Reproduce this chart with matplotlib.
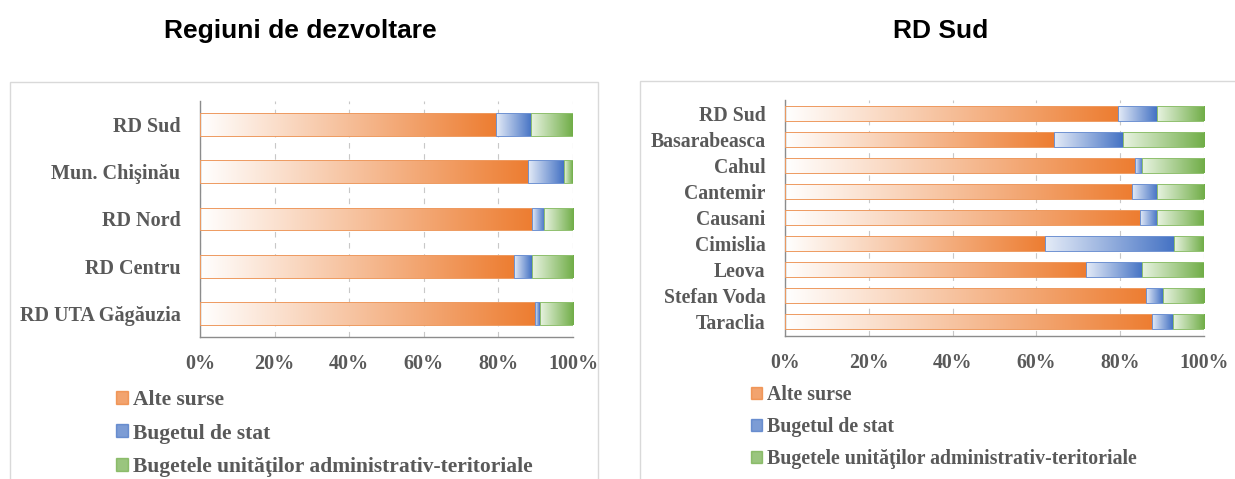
import numpy as np
import matplotlib.pyplot as plt
from matplotlib.colors import LinearSegmentedColormap
from matplotlib.patches import Patch, Rectangle

# date (procente)
reg_labels = ['RD Sud', 'Mun. Chişinău', 'RD Nord', 'RD Centru', 'RD UTA Găgăuzia']
reg_alte = [79.4, 88.0, 88.9, 84.3, 89.8]
reg_stat = [9.4, 9.6, 3.3, 4.6, 1.3]
reg_uat = [11.2, 2.4, 7.8, 11.1, 8.9]

sud_labels = ['RD Sud', 'Basarabeasca', 'Cahul', 'Cantemir', 'Causani',
              'Cimislia', 'Leova', 'Stefan Voda', 'Taraclia']
sud_alte = [79.4, 64.2, 83.5, 82.7, 84.7, 62.1, 71.8, 86.2, 87.7]
sud_stat = [9.3, 16.4, 1.7, 6.0, 4.1, 30.8, 13.5, 4.0, 4.9]
sud_uat = [11.3, 19.4, 14.8, 11.3, 11.2, 7.1, 14.7, 9.8, 7.4]

series_names = ['Alte surse', 'Bugetul de stat',
                'Bugetele unităţilor administrativ-teritoriale']
colors = ['#ED7D31', '#4472C4', '#70AD47']
light = ['#FFFFFF', '#E4EBF7', '#E8F3E1']
edges = ['#EE9A60', '#6F92D2', '#8FC06E']

W, H = 1235, 479
fig = plt.figure(figsize=(W / 100, H / 100), dpi=100)
serif = 'Liberation Serif'
gray = '#595959'


def px(x0, y0, x1, y1):
    return [x0 / W, 1 - y1 / H, (x1 - x0) / W, (y1 - y0) / H]


def draw(rect, labels, data, height, ylim, fs):
    ax = fig.add_axes(rect)
    y = np.arange(len(labels))
    left = np.zeros(len(labels))
    for k, vals in enumerate(data):
        bars = ax.barh(y, vals, left=left, height=height, color='none',
                       edgecolor=edges[k], linewidth=0.7, zorder=3)
        cmap = LinearSegmentedColormap.from_list('g%d' % k, [light[k], colors[k]])
        for p in bars:
            x0, y0 = p.get_x(), p.get_y()
            w, h = p.get_width(), p.get_height()
            im = ax.imshow(np.linspace(0, 1, 256).reshape(1, -1), cmap=cmap,
                           extent=[x0, x0 + w, y0 + h, y0], aspect='auto',
                           interpolation='bilinear', zorder=2)
            im.set_clip_path(p)
        left = left + np.array(vals)
    ax.set_xlim(0, 100)
    ax.set_ylim(*ylim)
    ax.set_yticks(y)
    ax.set_yticklabels(labels)
    ax.set_xticks(range(0, 101, 20))
    ax.set_xticklabels(['%d%%' % v for v in range(0, 101, 20)])
    for t in ax.get_xticklabels() + ax.get_yticklabels():
        t.set_fontfamily(serif)
        t.set_fontweight('bold')
        t.set_fontsize(fs)
        t.set_color(gray)
    ax.tick_params(length=0)
    ax.tick_params(axis='x', pad=12)
    ax.tick_params(axis='y', pad=14)
    ax.grid(axis='x', color='#C8C8C8', linestyle=(0, (5, 5)), linewidth=0.8, zorder=0)
    ax.set_axisbelow(True)
    for s in ['top', 'right']:
        ax.spines[s].set_visible(False)
    for s in ['left', 'bottom']:
        ax.spines[s].set_color('#8C8C8C')
        ax.spines[s].set_linewidth(1.0)
    return ax


draw(px(200, 101, 573, 337), reg_labels, [reg_alte, reg_stat, reg_uat], 0.48, (4.5, -0.5), 14.5)
draw(px(785, 100, 1204, 336), sud_labels, [sud_alte, sud_stat, sud_uat], 0.56, (8.55, -0.52), 14.2)

handles = [Patch(facecolor=colors[k], edgecolor=colors[k], alpha=0.7) for k in range(3)]
for xa, ya, fs, sp in [(116, 390, 15.5, 0.63), (751, 385, 14.3, 0.6)]:
    fig.legend(handles, series_names, loc='upper left',
               bbox_to_anchor=(xa / W, 1 - ya / H), frameon=False,
               prop={'family': serif, 'weight': 'bold', 'size': fs},
               labelcolor=gray, handlelength=0.55, handleheight=0.55,
               handletextpad=0.25, labelspacing=sp, borderpad=0, borderaxespad=0)

fig.text(300 / W, 1 - 31 / H, 'Regiuni de dezvoltare', ha='center', va='center',
         family='Liberation Sans', weight='bold', fontsize=19)
fig.text(941 / W, 1 - 31 / H, 'RD Sud', ha='center', va='center',
         family='Liberation Sans', weight='bold', fontsize=19)

fig.add_artist(Rectangle((10 / W, -0.05), 588 / W, 1.05 - 82 / H, transform=fig.transFigure,
                         fill=False, edgecolor='#D9D9D9', linewidth=1))
fig.add_artist(Rectangle((640 / W, -0.05), 0.5, 1.05 - 81 / H, transform=fig.transFigure,
                         fill=False, edgecolor='#D9D9D9', linewidth=1))

fig.savefig('out.png', dpi=100)
